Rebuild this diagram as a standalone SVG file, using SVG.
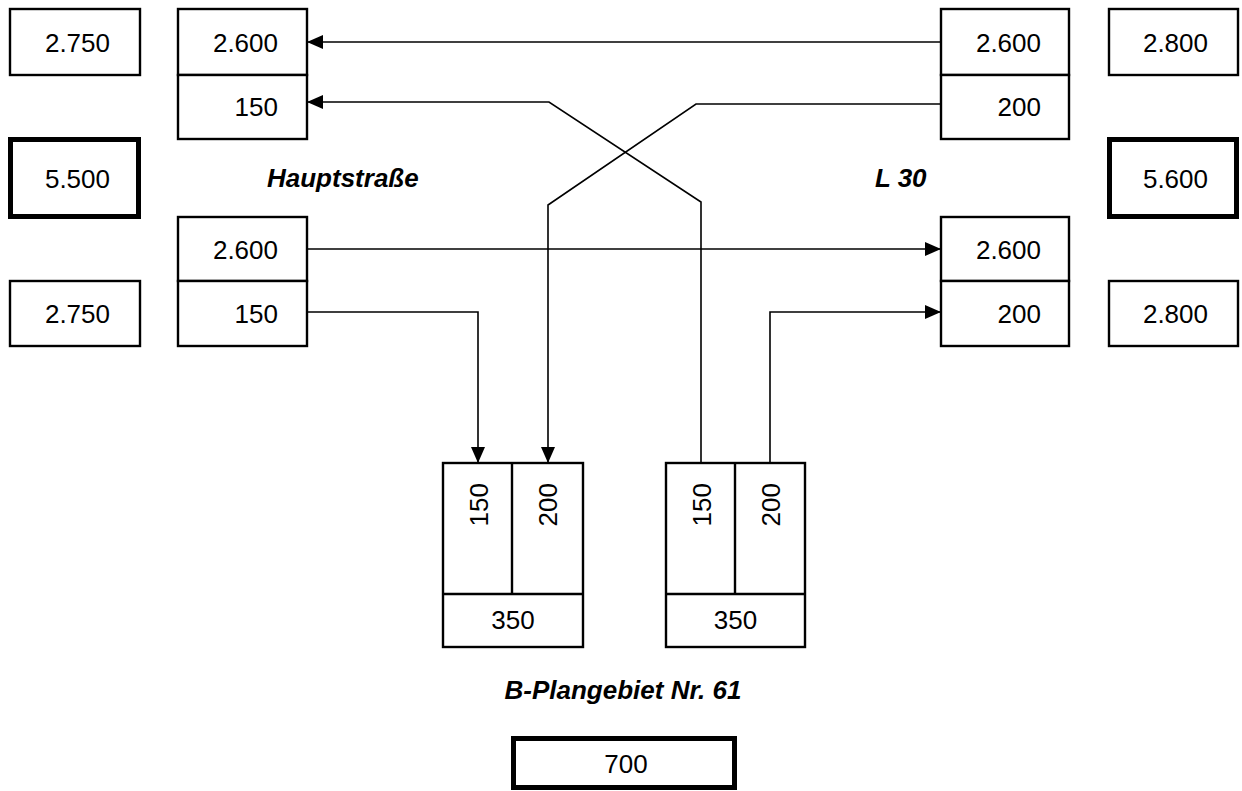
<svg xmlns="http://www.w3.org/2000/svg" width="1242" height="791" viewBox="0 0 1242 791">
<defs>
<style>
.b{fill:#fff;stroke:#000;stroke-width:2.4}
.t{fill:#fff;stroke:#000;stroke-width:5}
.l{fill:none;stroke:#000;stroke-width:1.6}
text{font-family:"Liberation Sans",Arial,sans-serif;font-size:26px;fill:#000}
.r{text-anchor:end}
.m{text-anchor:middle}
.h{font-weight:bold;font-style:italic}
</style>
<marker id="a" markerUnits="userSpaceOnUse" markerWidth="18" markerHeight="14" refX="16" refY="7" orient="auto">
<path d="M0,0 L16,7 L0,14 Z" fill="#000"/>
</marker>
</defs>
<rect width="1242" height="791" fill="#fff"/>
<g id="n-2750-top"><rect class="b" x="10" y="9" width="130" height="66"/><text class="r" x="110" y="52">2.750</text></g>
<g id="n-l-2600-top"><rect class="b" x="178" y="9" width="129" height="66"/><text class="r" x="278" y="52">2.600</text></g>
<g id="n-l-150-top"><rect class="b" x="178" y="75" width="129" height="64"/><text class="r" x="278" y="116">150</text></g>
<g id="n-5500"><rect class="t" x="10.5" y="139.5" width="128" height="77"/><text class="r" x="110" y="188">5.500</text></g>
<g id="n-l-2600-bot"><rect class="b" x="178" y="217" width="129" height="64"/><text class="r" x="278" y="259">2.600</text></g>
<g id="n-l-150-bot"><rect class="b" x="178" y="281" width="129" height="65"/><text class="r" x="278" y="323">150</text></g>
<g id="n-2750-bot"><rect class="b" x="10" y="281" width="130" height="65"/><text class="r" x="110" y="323">2.750</text></g>
<g id="n-r-2600-top"><rect class="b" x="941" y="9" width="128" height="66"/><text class="r" x="1041" y="52">2.600</text></g>
<g id="n-r-200-top"><rect class="b" x="941" y="75" width="128" height="64"/><text class="r" x="1041" y="116">200</text></g>
<g id="n-2800-top"><rect class="b" x="1109" y="9" width="129" height="66"/><text class="r" x="1208" y="52">2.800</text></g>
<g id="n-5600"><rect class="t" x="1109.5" y="139.5" width="127" height="77"/><text class="r" x="1208" y="188">5.600</text></g>
<g id="n-r-2600-bot"><rect class="b" x="941" y="217" width="128" height="64"/><text class="r" x="1041" y="259">2.600</text></g>
<g id="n-r-200-bot"><rect class="b" x="941" y="281" width="128" height="65"/><text class="r" x="1041" y="323">200</text></g>
<g id="n-2800-bot"><rect class="b" x="1109" y="281" width="129" height="65"/><text class="r" x="1208" y="323">2.800</text></g>
<g id="lbl-haupt"><text class="h" x="267" y="187">Hauptstraße</text></g>
<g id="lbl-l30"><text class="h" x="875" y="187">L 30</text></g>
<g id="n-bp-left">
<rect class="b" x="443" y="463" width="140" height="184"/>
<line class="b" x1="512" y1="463" x2="512" y2="594"/>
<line class="b" x1="443" y1="594" x2="583" y2="594"/>
<text class="r" transform="translate(488,483) rotate(-90)">150</text>
<text class="r" transform="translate(557,483) rotate(-90)">200</text>
<text class="m" x="513" y="629">350</text>
</g>
<g id="n-bp-right">
<rect class="b" x="666" y="463" width="139" height="184"/>
<line class="b" x1="735" y1="463" x2="735" y2="594"/>
<line class="b" x1="666" y1="594" x2="805" y2="594"/>
<text class="r" transform="translate(711,483) rotate(-90)">150</text>
<text class="r" transform="translate(780,483) rotate(-90)">200</text>
<text class="m" x="735.5" y="629">350</text>
</g>
<g id="lbl-bplan"><text class="h m" x="623" y="699">B-Plangebiet Nr. 61</text></g>
<g id="n-700"><rect class="t" x="513.5" y="738.5" width="221" height="49"/><text class="m" x="626" y="773">700</text></g>
<g id="connectors">
<polyline class="l" points="941,42 307,42" marker-end="url(#a)"/>
<polyline class="l" points="941,104 696,104 548,205 548,463" marker-end="url(#a)"/>
<polyline class="l" points="701,463 701,202 549,102 307,102" marker-end="url(#a)"/>
<polyline class="l" points="307,249 941,249" marker-end="url(#a)"/>
<polyline class="l" points="307,312 478,312 478,463" marker-end="url(#a)"/>
<polyline class="l" points="770,463 770,312 941,312" marker-end="url(#a)"/>
</g>
</svg>
